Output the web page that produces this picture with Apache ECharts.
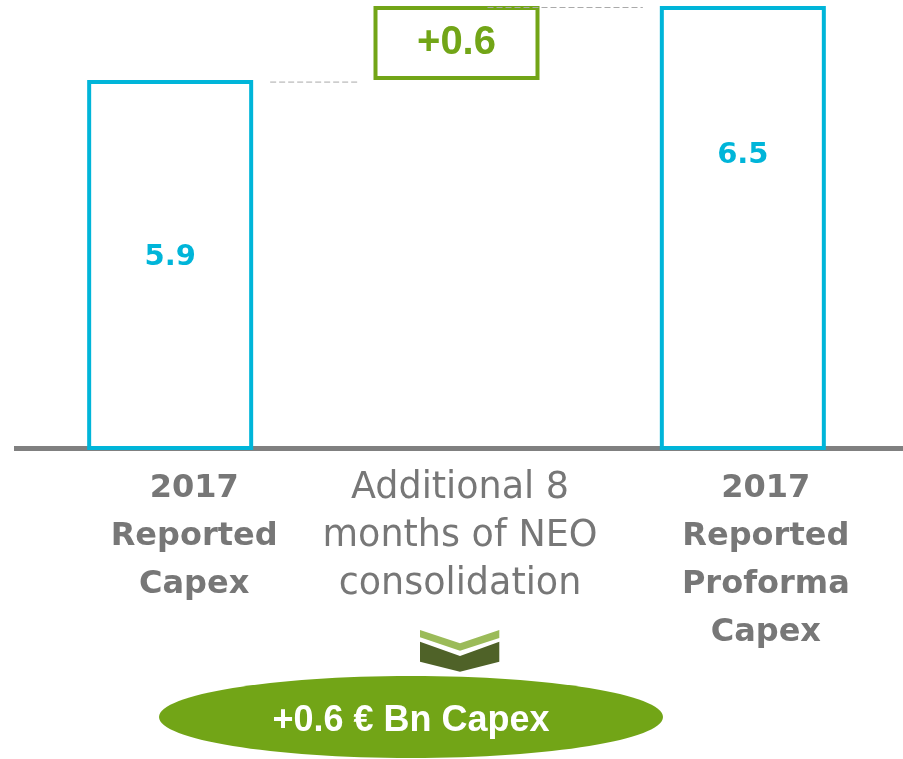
<!DOCTYPE html>
<html><head><meta charset="utf-8">
<script src="https://cdn.jsdelivr.net/npm/echarts@6/dist/echarts.min.js"></script>
<style>html,body{margin:0;padding:0;background:#fff}#c{width:903px;height:759px}</style>
</head><body><div id="c"></div>
<script>
// ---- data ----
const categories = ['2017\nReported\nCapex', 'Additional 8\nmonths of NEO\nconsolidation', '2017\nReported\nProforma\nCapex'];
const baseValues = [0, 5.9, 0];          // invisible waterfall base
const barValues = [5.9, 0.6, 6.5];       // visible bar values
const valueLabels = ['5.9', '+0.6', '6.5'];
const summaryText = '+0.6 € Bn Capex';

const CYAN = '#00B5D9', GREEN = '#72A517', GRAY = '#777777';
const chart = echarts.init(document.getElementById('c'), null, {renderer: 'canvas'});

const labelOffsets = [[0, -8], [0, 0], [0, -73]];
const richKeys = ['o1', 'm', 'o3'];

const option = {
  animation: false,
  backgroundColor: '#fff',
  grid: {left: 27, right: 17, top: 6, bottom: 311, containLabel: false},
  xAxis: {
    type: 'category',
    data: categories,
    axisLine: {onZero: false, lineStyle: {color: '#808080', width: 5, cap: 'butt'}},
    axisTick: {show: false},
    axisLabel: {
      interval: 0, margin: 17,
      formatter: (val, idx) => val.split('\n').map(s => '{' + richKeys[idx] + '|' + s + '}').join('\n'),
      rich: {
        o1: {color: GRAY, fontFamily: 'DejaVu Sans', fontWeight: 'bold', fontSize: 32, lineHeight: 48, padding: [0, 0, 0, 48]},
        m: {color: GRAY, fontFamily: 'DejaVu Sans', fontWeight: 'normal', fontSize: 36.5, lineHeight: 48, padding: [0, 0, 0, 7]},
        o3: {color: GRAY, fontFamily: 'DejaVu Sans', fontWeight: 'bold', fontSize: 32, lineHeight: 48, padding: [0, 0, 0, 46]}
      }
    }
  },
  yAxis: {type: 'value', min: 2.92, max: 6.5, show: false, splitLine: {show: false}},
  series: [
    {type: 'bar', stack: 'w', barWidth: 166, silent: true, data: baseValues,
     itemStyle: {color: 'transparent'}},
    {type: 'bar', stack: 'w', barWidth: 166,
     data: barValues.map((v, i) => ({
       value: v,
       itemStyle: {color: '#fff', borderColor: i === 1 ? GREEN : CYAN, borderWidth: 4},
       label: {
         show: true, position: 'inside', offset: labelOffsets[i],
         formatter: valueLabels[i],
         color: i === 1 ? GREEN : CYAN,
         fontFamily: i === 1 ? 'Liberation Sans' : 'DejaVu Sans',
         fontWeight: 'bold', fontSize: i === 1 ? 40 : 29
       }
     }))}
  ]
};
chart.setOption(option);

const p = (i, v) => chart.convertToPixel({gridIndex: 0}, [i, v]);
const a = p(0, barValues[0]), b = p(1, barValues[0]);
const top2 = baseValues[1] + barValues[1];
const b2 = p(1, top2), c2 = p(2, top2);
const axisY = p(0, 2.92)[1];
const dash = {stroke: '#AAAAAA', lineWidth: 1, lineDash: [6, 3]};

chart.setOption({
  graphic: [
    {type: 'line', z: 0, shape: {x1: 14, y1: axisY + 0.5, x2: 903, y2: axisY + 0.5}, style: {stroke: '#808080', lineWidth: 5}},
    {type: 'line', z: 100, shape: {x1: a[0] + 100, y1: a[1] + 2, x2: b[0] - 99, y2: b[1] + 2}, style: dash},
    {type: 'line', z: 100, shape: {x1: b2[0] + 31, y1: b2[1] + 1.5, x2: c2[0] - 100, y2: c2[1] + 1.5}, style: dash},
    {type: 'polygon', z: 100, shape: {points: [[420, 630], [460, 643.3], [499.3, 630], [499.3, 638], [460, 650.7], [420, 637.3]]}, style: {fill: '#9BBB59'}},
    {type: 'polygon', z: 100, shape: {points: [[420, 641.7], [460, 656], [499.3, 641.7], [499.3, 661.7], [460, 671.7], [420, 661.7]]}, style: {fill: '#4F6228'}},
    {type: 'ellipse', z: 100, shape: {cx: 411, cy: 717, rx: 252, ry: 41}, style: {fill: GREEN}},
    {type: 'text', z: 101, style: {text: summaryText, x: 411, y: 721, textAlign: 'center', textVerticalAlign: 'middle', fill: '#fff', font: 'bold 36px "Liberation Sans"'}}
  ]
});
</script></body></html>
